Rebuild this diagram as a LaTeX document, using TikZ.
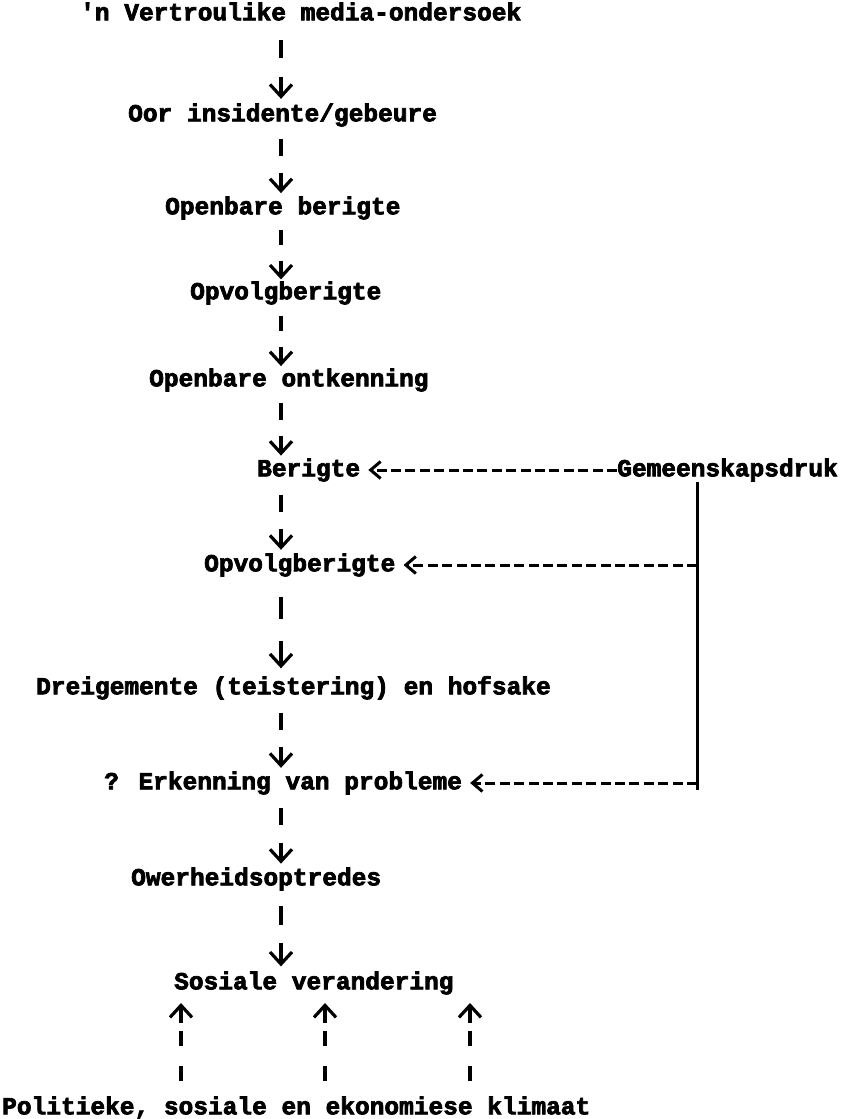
\documentclass[tikz,border=0pt]{standalone}
\usepackage{fontspec}
\newfontfamily\tw{Liberation Mono}[BoldFeatures={FakeBold=3}]
\usetikzlibrary{arrows.meta,calc}
\newcommand\vlink[2]{%
  \draw[bar] ($(#1 -| col)!0.26!(#2 -| col)$) -- ($(#1 -| col)!0.44!(#2 -| col)$);
  \draw[varr] ($(#1 -| col)!0.62!(#2 -| col)$) -- ($(#1 -| col)!0.84!(#2 -| col)$);}
\newcommand\uplink[1]{%
  \draw[bar] ($(L12 -| #1)!0.22!(L11 -| #1)$) -- ($(L12 -| #1)!0.34!(L11 -| #1)$);
  \draw[bar] ($(L12 -| #1)!0.50!(L11 -| #1)$) -- ($(L12 -| #1)!0.62!(L11 -| #1)$);
  \draw[varr] ($(L12 -| #1)!0.68!(L11 -| #1)$) -- ($(L12 -| #1)!0.84!(L11 -| #1)$);}
\tikzset{
  txt/.style={font=\tw\bfseries\fontsize{24.5}{24.5}\selectfont, inner sep=0pt,
    text height=12.6pt, text depth=0pt, anchor=west},
  bar/.style={line width=3.4pt},
  varr/.style={line width=3.2pt, -{Straight Barb[length=12pt,width=22pt]}},
  hdash/.style={line width=3pt, dash pattern=on 10pt off 4.4pt,
    -{Straight Barb[length=10pt,width=17pt]}, shorten >=8pt},
  vline/.style={line width=3pt}
}
\begin{document}
\begin{tikzpicture}[x=1pt,y=-1pt]
\useasboundingbox (0,0) rectangle (841,1119);
\coordinate (col) at (281,0);
\coordinate (vx) at (697,0);
\coordinate (vtop) at (697,482);
\coordinate (vbot) at (697,790);
\coordinate (u1) at (181,0);
\coordinate (u2) at (325,0);
\coordinate (u3) at (470,0);

\node[txt] (L1) at (80,14) {'n Vertroulike media-ondersoek};
\node[txt] (L2) at (128,115) {Oor insidente/gebeure};
\node[txt] (L3) at (165,208) {Openbare berigte};
\node[txt] (L4) at (190,293) {Opvolgberigte};
\node[txt] (L5) at (149,380) {Openbare ontkenning};
\node[txt] (L6) at (257,470) {Berigte};
\node[txt,anchor=east] (G) at (838,470) {Gemeenskapsdruk};
\node[txt] (L7) at (204,565) {Opvolgberigte};
\node[txt] (L8) at (36,688) {Dreigemente (teistering) en hofsake};
\node[txt] (L9) at (104,783) {? Erkenning van probleme};
\node[txt] (L10) at (131,879) {Owerheidsoptredes};
\node[txt] (L11) at (174,983) {Sosiale verandering};
\node[txt] (L12) at (2,1108) {Politieke, sosiale en ekonomiese klimaat};

\vlink{L1}{L2}
\vlink{L2}{L3}
\vlink{L3}{L4}
\vlink{L4}{L5}
\vlink{L5}{L6}
\vlink{L6}{L7}
\vlink{L7}{L8}
\vlink{L8}{L9}
\vlink{L9}{L10}
\vlink{L10}{L11}

\uplink{u1}
\uplink{u2}
\uplink{u3}

\draw[hdash] (G.west) -- (L6.east);
\draw[vline] (vtop) -- (vbot);
\draw[hdash] (L7 -| vx) -- (L7.east);
\draw[hdash] (L9 -| vx) -- (L9.east);
\end{tikzpicture}
\end{document}
